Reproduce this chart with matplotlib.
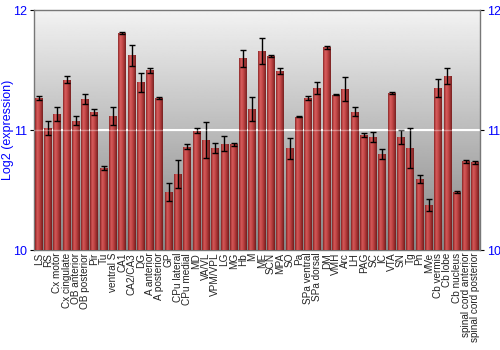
import numpy as np
import matplotlib
matplotlib.use('Agg')
import matplotlib.pyplot as plt
from matplotlib.colors import LinearSegmentedColormap

plt.rcParams['font.family'] = ['Liberation Sans', 'DejaVu Sans']

# regions (x tick labels)
regiones = ['LS', 'RS', 'Cx motor', 'Cx cingulate', 'OB anterior', 'OB posterior',
            'Pir', 'Tu', 'ventral S', 'CA1', 'CA2/CA3', 'DG', 'A anterior',
            'A posterior', 'GP', 'CPu lateral', 'CPu medial', 'MD', 'VA/VL',
            'VPM/VPL', 'LG', 'MG', 'Hb', 'M', 'ME', 'SCN', 'MPA', 'SO', 'Pa',
            'SPa ventral', 'SPa dorsal', 'DM', 'VMH', 'Arc', 'LH', 'PAG', 'SC',
            'IC', 'VTA', 'SN', 'Tg', 'Pn', 'MVe', 'Cb vermis', 'Cb lobe',
            'Cb nucleus', 'spinal cord anterior', 'spinal cord posterior']

# log2 expression
valores = [11.27, 11.017, 11.133, 11.42, 11.078, 11.258, 11.153, 10.686, 11.114,
           11.808, 11.622, 11.397, 11.497, 11.267, 10.483, 10.631, 10.861,
           10.994, 10.914, 10.85, 10.886, 10.88, 11.597, 11.175, 11.658, 11.617,
           11.492, 10.847, 11.111, 11.267, 11.35, 11.689, 11.294, 11.339, 11.153,
           10.958, 10.942, 10.80, 11.308, 10.939, 10.85, 10.589, 10.372, 11.35,
           11.447, 10.481, 10.739, 10.731]

errores = [0.017, 0.06, 0.057, 0.03, 0.04, 0.043, 0.025, 0.017, 0.074, 0.01,
           0.085, 0.08, 0.018, 0.006, 0.076, 0.117, 0.022, 0.022, 0.15, 0.044,
           0.064, 0.01, 0.07, 0.1, 0.11, 0.006, 0.026, 0.09, 0.005, 0.015, 0.046,
           0.014, 0.004, 0.1, 0.04, 0.017, 0.043, 0.04, 0.008, 0.057, 0.163,
           0.032, 0.05, 0.072, 0.067, 0.01, 0.014, 0.012]

y_ticks = [10, 11, 12]
AZUL = '#0000ff'

fig = plt.figure(figsize=(5, 3.5), dpi=100)
ax = fig.add_axes([0.068, 0.2857, 0.892, 0.6857])

x = np.arange(len(regiones))
ax.set_xlim(-0.5, len(regiones) - 0.5)
ax.set_ylim(10, 12)

# background gradient
fondo = np.linspace(0.95, 0.52, 256).reshape(-1, 1)
ax.imshow(fondo, cmap='gray', vmin=0, vmax=1, aspect='auto',
          extent=(-0.5, len(regiones) - 0.5, 10, 12), origin='upper', zorder=0)
ax.axhline(11, color='white', lw=1.5, zorder=1)

# bars with horizontal shading
cmap_barra = LinearSegmentedColormap.from_list(
    'barra', [(0, '#7a1c1c'), (0.12, '#b53434'), (0.3, '#d85656'),
              (0.55, '#c43e3e'), (0.85, '#902222'), (1, '#701515')])
barras = ax.bar(x, np.array(valores) - 10, bottom=10, width=0.85,
                color='#b83a3a', edgecolor='none', zorder=2)
grad = np.linspace(0, 1, 64).reshape(1, -1)
for b in barras:
    im = ax.imshow(grad, cmap=cmap_barra, aspect='auto', alpha=0.93,
                   extent=(b.get_x(), b.get_x() + b.get_width(), 10, 10 + b.get_height()),
                   zorder=3)
    im.set_clip_path(b)
    b.set_visible(False)

ax.errorbar(x, valores, yerr=errores, fmt='none', ecolor='black',
            elinewidth=1, capsize=2, capthick=1, zorder=4)
ax.axhline(11, color='white', lw=1, alpha=0.35, zorder=5)

ax.set_xticks(x)
ax.set_xticklabels(regiones, rotation=90, fontsize=7.2, color='#222222')
ax.tick_params(axis='x', length=0, pad=2)

ax.set_yticks(y_ticks)
ax.set_yticklabels([str(t) for t in y_ticks])
ax.tick_params(axis='y', which='both', left=True, right=True, labelleft=True,
               labelright=True, labelcolor=AZUL, labelsize=9, length=3,
               pad=2, direction='out', color='black')
ax.set_ylabel('Log2 (expression)', color=AZUL, fontsize=9)
ax.yaxis.set_label_coords(-0.045, 0.5)

for s in ax.spines.values():
    s.set_color('#777777')
    s.set_linewidth(1)

plt.savefig('out.png', dpi=100)
